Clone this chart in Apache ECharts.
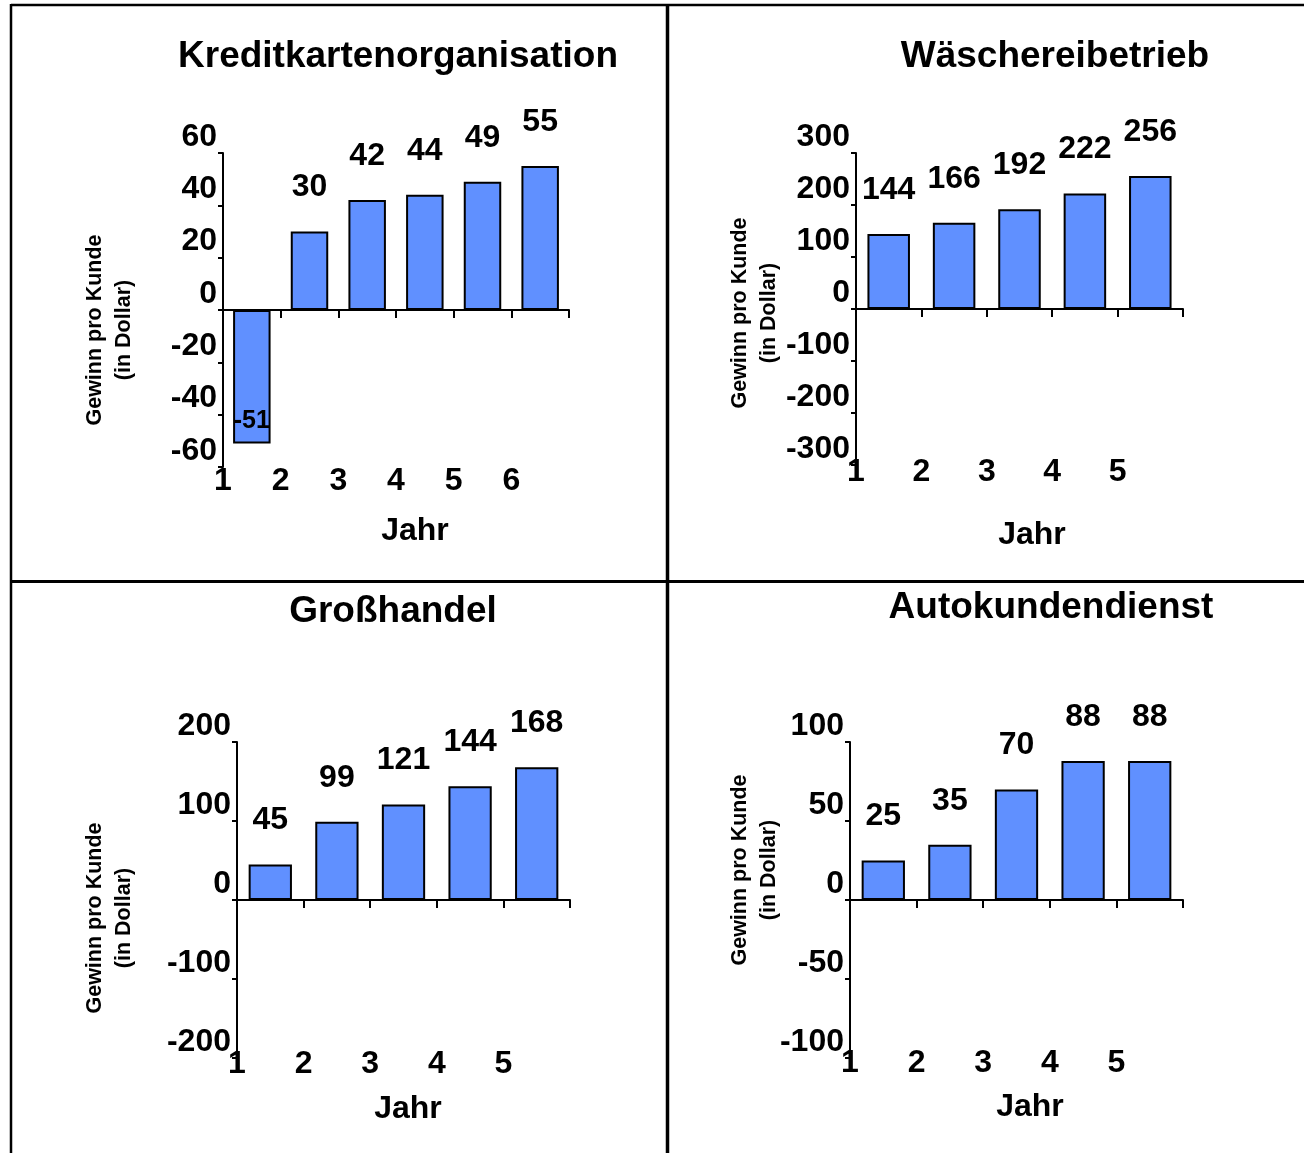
<!DOCTYPE html>
<html>
<head>
<meta charset="utf-8">
<script src="https://cdn.jsdelivr.net/npm/echarts@6/dist/echarts.min.js"></script>
<style>
html,body{margin:0;padding:0;background:#fff;}
#chart{width:1304px;height:1153px;}
</style>
</head>
<body>
<div id="chart"></div>
<script>
// ---- data ----
const panelTitles = ['Kreditkartenorganisation', 'Wäschereibetrieb', 'Großhandel', 'Autokundendienst'];
const yAxisTitle = 'Gewinn pro Kunde\n(in Dollar)';
const xAxisTitle = 'Jahr';
const yearsKredit = ['1', '2', '3', '4', '5', '6'];
const yearsFive = ['1', '2', '3', '4', '5'];
const kreditValues = [-51, 30, 42, 44, 49, 55];
const waescheValues = [144, 166, 192, 222, 256];
const grossValues = [45, 99, 121, 144, 168];
const autoValues = [25, 35, 70, 88, 88];
const kreditScale = { min: -60, max: 60, step: 20 };
const waescheScale = { min: -300, max: 300, step: 100 };
const grossScale = { min: -200, max: 200, step: 100 };
const autoScale = { min: -100, max: 100, step: 50 };

// ---- layout (positions only) ----
const FONT = '"Liberation Sans", Arial, Helvetica, sans-serif';
const BAR_COLOR = '#6090FF';
const panels = [
  { title: panelTitles[0], values: kreditValues, years: yearsKredit, scale: kreditScale,
    grid: { left: 223, top: 153, width: 346, height: 314 }, titlePos: [398, 57], yNamePos: [110, 330], xNamePos: [415, 531], xLabelMargin: -2 },
  { title: panelTitles[1], values: waescheValues, years: yearsFive, scale: waescheScale,
    grid: { left: 856, top: 153, width: 327, height: 312 }, titlePos: [1055, 57], yNamePos: [755, 313], xNamePos: [1032, 535], xLabelMargin: -9 },
  { title: panelTitles[2], values: grossValues, years: yearsFive, scale: grossScale,
    grid: { left: 237, top: 742, width: 333, height: 316 }, titlePos: [393, 612], yNamePos: [110, 918], xNamePos: [408, 1109], xLabelMargin: -10 },
  { title: panelTitles[3], values: autoValues, years: yearsFive, scale: autoScale,
    grid: { left: 850, top: 742, width: 333, height: 316 }, titlePos: [1051, 608], yNamePos: [755, 870], xNamePos: [1030, 1107], xLabelMargin: -11 }
];

const axisLineStyle = { color: '#000', width: 2 };
const grids = [], xAxes = [], yAxes = [], series = [], titles = [], graphics = [];

panels.forEach((p, i) => {
  grids.push(Object.assign({ containLabel: false }, p.grid));
  titles.push({
    text: p.title, left: p.titlePos[0], top: p.titlePos[1], textAlign: 'center', textVerticalAlign: 'middle', padding: 0,
    textStyle: { fontFamily: FONT, fontSize: 37, fontWeight: 'bold', color: '#000' }
  });
  // category axis on the zero line (bars + ticks)
  xAxes.push({
    type: 'category', gridIndex: i, data: p.years, boundaryGap: true,
    axisLine: { show: true, onZero: true, lineStyle: axisLineStyle },
    axisTick: { show: true, length: 8, lineStyle: { color: '#000', width: 2 } },
    axisLabel: { show: false }, splitLine: { show: false }
  });
  // year labels at the bottom of the plot, on category boundaries
  const n = p.years.length;
  xAxes.push({
    type: 'value', gridIndex: i, min: 0, max: n, interval: 1, position: 'bottom',
    axisLine: { show: false, onZero: false }, axisTick: { show: false }, splitLine: { show: false },
    axisLabel: {
      show: true, margin: p.xLabelMargin, showMinLabel: true, showMaxLabel: true,
      fontFamily: FONT, fontSize: 32, fontWeight: 'bold', color: '#000',
      formatter: v => (v < n ? p.years[v] : '')
    }
  });
  yAxes.push({
    type: 'value', gridIndex: i, min: p.scale.min, max: p.scale.max, interval: p.scale.step,
    axisLine: { show: true, lineStyle: axisLineStyle },
    axisTick: { show: true, length: 5, lineStyle: { color: '#000', width: 2 } },
    splitLine: { show: false },
    axisLabel: { margin: 6, verticalAlign: 'bottom', fontFamily: FONT, fontSize: 32, fontWeight: 'bold', color: '#000' }
  });
  series.push({
    type: 'bar', xAxisIndex: 2 * i, yAxisIndex: i, barCategoryGap: '35%',
    itemStyle: { color: BAR_COLOR, borderColor: '#000', borderWidth: 2 },
    label: { show: true, position: 'top', distance: 28, fontFamily: FONT, fontSize: 32, fontWeight: 'bold', color: '#000' },
    data: p.values.map(v => v < 0
      ? { value: v, label: { position: 'insideBottom', distance: 10, fontSize: 25 } }
      : v)
  });
  graphics.push({
    type: 'text', x: p.yNamePos[0], y: p.yNamePos[1], rotation: Math.PI / 2,
    style: { text: yAxisTitle, align: 'center', verticalAlign: 'middle', fontFamily: FONT, fontSize: 21.5, fontWeight: 'bold', lineHeight: 29, fill: '#000' }
  });
  graphics.push({
    type: 'text', x: p.xNamePos[0], y: p.xNamePos[1],
    style: { text: xAxisTitle, align: 'center', verticalAlign: 'middle', fontFamily: FONT, fontSize: 32, fontWeight: 'bold', fill: '#000' }
  });
});

// frame lines
const frame = [
  [11, 5, 1304, 5, 2.5],
  [11, 4, 11, 1153, 2.5],
  [667.5, 4, 667.5, 1153, 3.5],
  [11, 581.5, 1304, 581.5, 3]
];
frame.forEach(f => graphics.push({
  type: 'line', shape: { x1: f[0], y1: f[1], x2: f[2], y2: f[3] },
  style: { stroke: '#000', lineWidth: f[4] }, z: 100
}));

const chart = echarts.init(document.getElementById('chart'), null, { renderer: 'canvas' });
chart.setOption({
  animation: false,
  backgroundColor: '#fff',
  title: titles,
  grid: grids,
  xAxis: xAxes,
  yAxis: yAxes,
  series: series,
  graphic: graphics
});
</script>
</body>
</html>
